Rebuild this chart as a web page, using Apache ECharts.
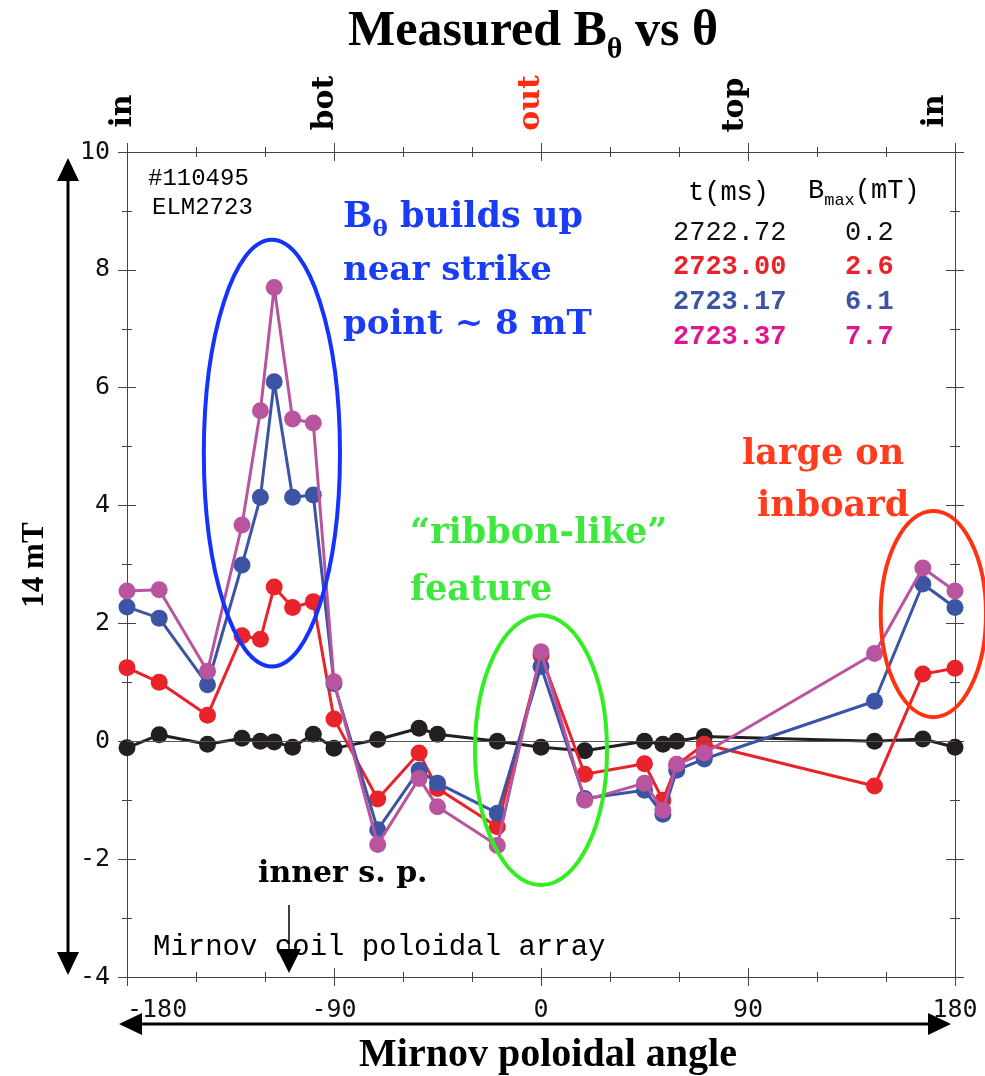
<!DOCTYPE html>
<html>
<head>
<meta charset="utf-8">
<script src="https://cdn.jsdelivr.net/npm/echarts@6/dist/echarts.min.js"></script>
<style>
  html, body { margin: 0; padding: 0; background: #fff; }
  #chart { width: 985px; height: 1076px; }
</style>
</head>
<body>
<div id="chart"></div>
<script>
// Mirnov coil poloidal angles (deg)
const angles = [-180, -166, -145, -130, -122, -116, -108, -99, -90, -71, -53, -45, -19, 0, 19, 45, 53, 59, 71, 145, 166, 180];

// Measured B_theta (mT) at four times during ELM 2723
const bT272272 = [-0.11, 0.11, -0.05, 0.05, 0.00, -0.01, -0.10, 0.12, -0.12, 0.03, 0.22, 0.12, 0.00, -0.10, -0.16, 0.00, -0.05, 0.00, 0.08, 0.00, 0.04, -0.10];
const bT272300 = [1.25, 1.00, 0.44, 1.79, 1.73, 2.62, 2.27, 2.37, 0.38, -0.98, -0.20, -0.80, -1.45, 1.46, -0.56, -0.38, -1.00, -0.40, -0.05, -0.76, 1.14, 1.24];
const bT272317 = [2.28, 2.09, 0.96, 2.99, 4.14, 6.10, 4.14, 4.18, 0.98, -1.50, -0.49, -0.71, -1.22, 1.27, -0.97, -0.83, -1.24, -0.49, -0.30, 0.68, 2.67, 2.27];
const bT272337 = [2.55, 2.57, 1.19, 3.67, 5.61, 7.70, 5.47, 5.40, 1.01, -1.75, -0.63, -1.11, -1.77, 1.52, -1.00, -0.71, -1.17, -0.39, -0.20, 1.49, 2.94, 2.55];

// Table of times and peak fields
const timeLabels = ['2722.72', '2723.00', '2723.17', '2723.37'];
const bmaxLabels = ['0.2', '2.6', '6.1', '7.7'];

// Top-axis location names
const locNames = ['in', 'bot', 'out', 'top', 'in'];

// Highlight ellipses: [centre angle, centre B, half-width (deg), half-height (mT)]
const ellipseBuildUp = [-117, 4.89, 29.6, 3.62];
const ellipseRibbon = [0, -0.15, 28.7, 2.29];
const ellipseInboard = [170.6, 2.16, 22.9, 1.75];

const lineColors = ['#231f20', '#e8232a', '#3b54a3', '#b8559e'];
const tableColors = ['#111111', '#e8232a', '#3b54a3', '#e0168c'];

const chart = echarts.init(document.getElementById('chart'), null, { renderer: 'canvas' });

const axisLineStyle = { color: '#444', width: 1 };
const tickFont = { fontFamily: '"DejaVu Sans Mono"', fontSize: 25, color: '#111' };

function xAxisDef(position, inside, showLabel) {
  return {
    type: 'value', position: position, min: -180, max: 180, interval: 90,
    axisLine: { show: true, onZero: false, lineStyle: axisLineStyle },
    axisTick: { show: true, inside: inside, length: 9, lineStyle: axisLineStyle },
    minorTick: { show: true, splitNumber: 3, length: 5, lineStyle: axisLineStyle },
    axisLabel: showLabel ? Object.assign({ show: true, margin: 21, alignMinLabel: 'left' }, tickFont) : { show: false },
    splitLine: { show: false }, minorSplitLine: { show: false }
  };
}
function yAxisDef(position, inside, showLabel) {
  return {
    type: 'value', position: position, min: -4, max: 10, interval: 2,
    axisLine: { show: true, onZero: false, lineStyle: axisLineStyle },
    axisTick: { show: true, inside: inside, length: 9, lineStyle: axisLineStyle },
    minorTick: { show: true, splitNumber: 2, length: 5, lineStyle: axisLineStyle },
    axisLabel: showLabel ? Object.assign({ show: true, margin: 17 }, tickFont) : { show: false },
    splitLine: { show: false }, minorSplitLine: { show: false }
  };
}

function lineSeries(values, color, z) {
  return {
    type: 'line', xAxisIndex: 0, yAxisIndex: 0, z: z,
    data: angles.map((a, i) => [a, values[i]]),
    symbol: 'circle', symbolSize: 17, showSymbol: true,
    lineStyle: { color: color, width: 3 },
    itemStyle: { color: color },
    emphasis: { disabled: true },
    animation: false
  };
}

function ellipseSeries(params, color) {
  return {
    type: 'custom', xAxisIndex: 0, yAxisIndex: 0, z: 10, clip: false, silent: true,
    data: [params],
    renderItem: function (p, api) {
      const c = api.coord([api.value(0), api.value(1)]);
      const s = api.size([api.value(2), api.value(3)]);
      return {
        type: 'ellipse',
        shape: { cx: c[0], cy: c[1], rx: s[0], ry: s[1] },
        style: { fill: 'none', stroke: color, lineWidth: 4 }
      };
    },
    animation: false
  };
}

const zeroLine = {
  silent: true, symbol: ['none', 'none'], label: { show: false },
  lineStyle: { color: '#555', width: 1, type: 'solid' },
  data: [{ yAxis: 0 }], animation: false
};

const seriesBlack = lineSeries(bT272272, lineColors[0], 3);
seriesBlack.markLine = zeroLine;

const serif = '"DejaVu Serif"';
const times = '"Liberation Serif"';
const mono = '"Liberation Mono"';

function txt(x, y, text, opts) {
  return {
    type: 'text', x: x, y: y, rotation: opts.rotation || 0, silent: true, z: 20,
    style: Object.assign({
      text: text, fill: opts.fill || '#000',
      fontFamily: opts.family || serif, fontSize: opts.size || 30, fontWeight: opts.weight || 'bold',
      align: opts.align || 'left', verticalAlign: opts.valign || 'middle',
      textAlign: opts.align || 'left', textVerticalAlign: opts.valign || 'middle'
    }, opts.rich ? { rich: opts.rich } : {})
  };
}

// Location labels along the top, rotated to read upward
const locX = [123, 325, 531, 735, 935];
const locY = [111, 103, 103, 105, 111];
const locGraphics = locNames.map((n, i) =>
  txt(locX[i], locY[i], n, { rotation: Math.PI / 2, align: 'center', size: 30, fill: n === 'out' ? '#ff2a10' : '#000' })
);

// Time / B_max table
const tableGraphics = [];
tableGraphics.push(txt(688, 193, 't(ms)', { family: mono, size: 27, weight: 'normal' }));
tableGraphics.push(txt(808, 193, '{m|B}{s|max}{m|(mT)}', {
  family: mono, size: 27, weight: 'normal',
  rich: {
    m: { fontFamily: mono, fontSize: 27, fill: '#000', verticalAlign: 'top' },
    s: { fontFamily: mono, fontSize: 17, fill: '#000', verticalAlign: 'top', padding: [14, 0, 0, 0] }
  }
}));
timeLabels.forEach((t, i) => {
  const y = 233 + i * 34.7;
  const w = i === 0 ? 'normal' : 'bold';
  tableGraphics.push(txt(673, y, t, { family: mono, size: 27, weight: w, fill: tableColors[i] }));
  tableGraphics.push(txt(845, y, bmaxLabels[i], { family: mono, size: 27, weight: w, fill: tableColors[i] }));
});

const blue = '#1a3cf5', green = '#3ee83e', red = '#ff3c1e';

const annotationGraphics = [
  txt(533, 7, '{t|Measured B}{s|θ}{t| vs θ}', {
    family: times, size: 50, align: 'center', valign: 'top',
    rich: {
      t: { fontFamily: times, fontSize: 50, fontWeight: 'bold', fill: '#000', verticalAlign: 'top' },
      s: { fontFamily: times, fontSize: 30, fontWeight: 'bold', fill: '#000', verticalAlign: 'top', padding: [28, 0, 0, 0] }
    }
  }),
  txt(148, 179, '#110495', { family: mono, size: 24, weight: 'normal' }),
  txt(152, 208, 'ELM2723', { family: mono, size: 24, weight: 'normal' }),
  txt(343, 200, '{a|B}{s|θ}{a| builds up}', {
    size: 35, fill: blue, valign: 'top',
    rich: {
      a: { fontFamily: serif, fontSize: 35, fontWeight: 'bold', fill: blue, verticalAlign: 'top' },
      s: { fontFamily: serif, fontSize: 23, fontWeight: 'bold', fill: blue, verticalAlign: 'top', padding: [19, 0, 0, 0] }
    }
  }),
  txt(343, 271, 'near strike', { size: 34, fill: blue }),
  txt(343, 325, 'point ~ 8 mT', { size: 34, fill: blue }),
  txt(410, 534, '\u201Cribbon-like\u201D', { size: 35, fill: green }),
  txt(410, 591, 'feature', { size: 35, fill: green }),
  txt(742, 455, 'large on', { size: 35, fill: red }),
  txt(757, 507, 'inboard', { size: 35, fill: red }),
  txt(258, 874, 'inner s. p.', { size: 30 }),
  txt(153, 947, 'Mirnov coil poloidal array', { family: mono, size: 29, weight: 'normal' }),
  txt(35, 565, '14 mT', { family: times, size: 31, rotation: Math.PI / 2, align: 'center' }),
  txt(548, 1056, 'Mirnov poloidal angle', { family: times, size: 40, align: 'center' })
];

// Arrows: vertical scale arrow, horizontal angle arrow, inner strike point marker
const arrowStyle = { stroke: '#000', lineWidth: 3 };
const arrowGraphics = [
  { type: 'line', shape: { x1: 68, y1: 176, x2: 68, y2: 958 }, style: arrowStyle, silent: true },
  { type: 'polygon', shape: { points: [[68, 158], [57, 181], [79, 181]] }, style: { fill: '#000' }, silent: true },
  { type: 'polygon', shape: { points: [[68, 975], [57, 952], [79, 952]] }, style: { fill: '#000' }, silent: true },
  { type: 'line', shape: { x1: 138, y1: 1024, x2: 932, y2: 1024 }, style: arrowStyle, silent: true },
  { type: 'polygon', shape: { points: [[119, 1024], [142, 1013], [142, 1035]] }, style: { fill: '#000' }, silent: true },
  { type: 'polygon', shape: { points: [[951, 1024], [928, 1013], [928, 1035]] }, style: { fill: '#000' }, silent: true },
  { type: 'line', shape: { x1: 289, y1: 905, x2: 289, y2: 952 }, style: { stroke: '#000', lineWidth: 1.5 }, silent: true },
  { type: 'polygon', shape: { points: [[289, 973], [277, 949], [301, 949]] }, style: { fill: '#000' }, silent: true }
];

chart.setOption({
  backgroundColor: '#fff',
  animation: false,
  grid: { left: 127, right: 30, top: 152, bottom: 99, containLabel: false },
  xAxis: [
    xAxisDef('bottom', false, true),
    xAxisDef('bottom', true, false),
    xAxisDef('top', false, false),
    xAxisDef('top', true, false)
  ],
  yAxis: [
    yAxisDef('left', false, true),
    yAxisDef('left', true, false),
    yAxisDef('right', false, false),
    yAxisDef('right', true, false)
  ],
  series: [
    seriesBlack,
    lineSeries(bT272300, lineColors[1], 4),
    lineSeries(bT272317, lineColors[2], 5),
    lineSeries(bT272337, lineColors[3], 6),
    ellipseSeries(ellipseBuildUp, '#1433ff'),
    ellipseSeries(ellipseRibbon, '#33ee22'),
    ellipseSeries(ellipseInboard, '#ff3311')
  ],
  graphic: { elements: [].concat(locGraphics, tableGraphics, annotationGraphics, arrowGraphics) }
});
</script>
</body>
</html>
